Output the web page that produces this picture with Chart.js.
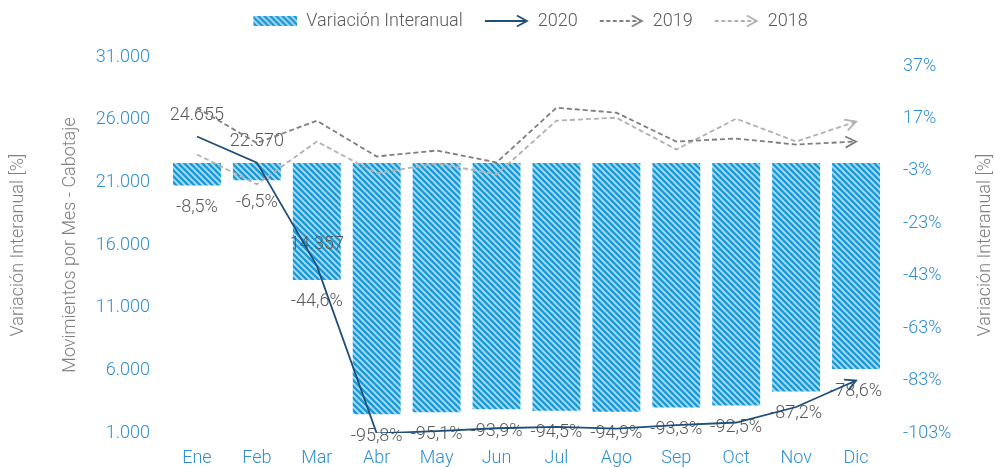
<!DOCTYPE html>
<html><head><meta charset="utf-8">
<script src="https://cdn.jsdelivr.net/npm/chart.js@4/dist/chart.umd.min.js"></script>
<style>html,body{margin:0;padding:0;background:#fff;}#wrap{width:995px;height:468px;position:relative;}</style>
</head><body><div id="wrap"><canvas id="c"></canvas></div>
<script>
const months = ['Ene','Feb','Mar','Abr','May','Jun','Jul','Ago','Sep','Oct','Nov','Dic'];
const variacion = [-8.5,-6.5,-44.6,-95.8,-95.1,-93.9,-94.5,-94.9,-93.3,-92.5,-87.2,-78.6];
const s2020 = [24655,22570,14357,969,1153,1378,1482,1354,1625,1837,3074,5190];
const s2019 = [26945,24139,25915,23063,23540,22587,26952,26556,24254,24492,24016,24254];
const s2018 = [23222,20841,24254,21714,22508,21635,25921,26159,23619,26079,24254,25841];
const labeled2020 = [0,1,2];
const leftTicks = [1000,6000,11000,16000,21000,26000,31000];
const rightTicks = [-103,-83,-63,-43,-23,-3,17,37];
const rightTitle = 'Variación Interanual [%]';

const FONT = 'Roboto';
const TICK_BLUE = '#2f8fd1';
const LABEL_GREY = '#595959';
const TITLE_GREY = '#808080';
const C2020 = '#1f4e79', C2019 = '#7f7f7f', C2018 = '#b0b0b0';

function fmtNum(v){ return String(v).replace(/\B(?=(\d{3})+(?!\d))/g,'.'); }
function fmtPct(v){ return String(v).replace('.',',') + '%'; }

function tile(){
  const c=document.createElement('canvas'); c.width=6; c.height=6;
  const g=c.getContext('2d');
  g.fillStyle='#1a9ad6'; g.fillRect(0,0,6,6);
  g.strokeStyle='rgba(255,255,255,0.65)'; g.lineWidth=1.9;
  g.beginPath(); g.moveTo(-1,-1); g.lineTo(7,7); g.moveTo(5,-1); g.lineTo(7,1); g.moveTo(-1,5); g.lineTo(1,7); g.stroke();
  return c;
}
const canvas = document.getElementById('c');
canvas.width=995; canvas.height=468;
const mainCtx = canvas.getContext('2d');
const pattern = mainCtx.createPattern(tile(),'repeat');

const W = 50;
function swatchImg(){
  const c=document.createElement('canvas'); c.width=W; c.height=14;
  const g=c.getContext('2d'); g.fillStyle=g.createPattern(tile(),'repeat'); g.fillRect(W-44,2,44,10); return c;
}
function arrowImg(color, dash){
  const c=document.createElement('canvas'); c.width=W; c.height=14;
  const g=c.getContext('2d'); g.strokeStyle=color; g.lineWidth=1.8;
  g.setLineDash(dash); g.beginPath(); g.moveTo(W-44,7); g.lineTo(W-2,7); g.stroke();
  g.setLineDash([]); g.beginPath(); g.moveTo(W-12,1.5); g.lineTo(W-2,7); g.lineTo(W-12,12.5); g.stroke();
  return c;
}
const legendImgs = [swatchImg(), arrowImg(C2020,[]), arrowImg(C2019,[4,2.5]), arrowImg(C2018,[4,2.5])];

const valuePlugin = {
  id:'vals',
  afterDatasetDraw(chart, args){
    if(args.index!==0) return;
    const ctx=chart.ctx; ctx.save();
    ctx.font='300 18px '+FONT; ctx.fillStyle=LABEL_GREY; ctx.textAlign='center'; ctx.textBaseline='middle';
    chart.getDatasetMeta(0).data.forEach((el,i)=>ctx.fillText(fmtPct(variacion[i]), el.x, el.y+22));
    const m=chart.getDatasetMeta(1);
    labeled2020.forEach(i=>{const el=m.data[i]; ctx.fillText(fmtNum(s2020[i]), el.x, el.y-21);});
    ctx.restore();
  }
};
const arrowPlugin = {
  id:'arrows',
  afterDatasetsDraw(chart){
    const ctx=chart.ctx;
    [1,2,3].forEach(di=>{
      const ds=chart.data.datasets[di]; const pts=chart.getDatasetMeta(di).data;
      const a=pts[pts.length-2], b=pts[pts.length-1];
      const ang=Math.atan2(b.y-a.y,b.x-a.x), L=12, sp=Math.PI/6.5;
      ctx.save(); ctx.strokeStyle=ds.borderColor; ctx.lineWidth=ds.borderWidth; ctx.setLineDash([]);
      ctx.beginPath();
      ctx.moveTo(b.x-L*Math.cos(ang-sp), b.y-L*Math.sin(ang-sp));
      ctx.lineTo(b.x,b.y);
      ctx.lineTo(b.x-L*Math.cos(ang+sp), b.y-L*Math.sin(ang+sp));
      ctx.stroke(); ctx.restore();
    });
  }
};
const rightTitlePlugin = {
  id:'rightTitle',
  afterDraw(chart){
    const s=chart.scales.y1, ctx=chart.ctx; ctx.save();
    ctx.translate(s.right-10, (chart.chartArea.top+chart.chartArea.bottom)/2);
    ctx.rotate(-Math.PI/2);
    ctx.font='300 18px '+FONT; ctx.fillStyle=TITLE_GREY; ctx.textAlign='center'; ctx.textBaseline='middle';
    ctx.fillText(rightTitle,0,0); ctx.restore();
  }
};
const legendShift = { id:'legendShift', afterLayout(chart){ const l=chart.legend; if(l){ l.left+=30; l.right+=30; l.top-=17; l.bottom-=17; } } };

new Chart(canvas, {
  data:{
    labels: months,
    datasets:[
      {type:'bar', label:'Variación Interanual', data:variacion, yAxisID:'y1', backgroundColor:pattern, borderWidth:0, barPercentage:0.8, categoryPercentage:1.0, order:10},
      {type:'line', label:'2020', data:s2020, yAxisID:'y', borderColor:C2020, borderWidth:1.8, pointRadius:0, tension:0, fill:false, order:1},
      {type:'line', label:'2019', data:s2019, yAxisID:'y', borderColor:C2019, borderWidth:1.8, borderDash:[5,3], pointRadius:0, tension:0, fill:false, order:2},
      {type:'line', label:'2018', data:s2018, yAxisID:'y', borderColor:C2018, borderWidth:1.8, borderDash:[5,3], pointRadius:0, tension:0, fill:false, order:3}
    ]
  },
  options:{
    responsive:false, animation:false, devicePixelRatio:1,
    layout:{padding:{top:13,left:0,right:0,bottom:0}},
    plugins:{
      tooltip:{enabled:false},
      legend:{
        display:true, position:'top', align:'center',
        labels:{
          usePointStyle:true, pointStyleWidth:W, padding:16, color:'#595959',
          font:{family:FONT,size:18,weight:'300'},
          generateLabels(chart){
            return chart.data.datasets.map((ds,i)=>({text:ds.label, pointStyle:legendImgs[i], datasetIndex:i, hidden:false, fontColor:'#595959', lineWidth:0, strokeStyle:'transparent', fillStyle:'transparent'}));
          }
        }
      }
    },
    scales:{
      x:{
        grid:{display:false}, border:{display:false},
        ticks:{color:TICK_BLUE, font:{family:FONT,size:18,weight:'300'}, padding:7, maxRotation:0},
        afterFit(s){ s.height=35; }
      },
      y:{
        position:'left', min:1000, max:31000,
        grid:{display:false, drawTicks:false}, border:{display:false},
        ticks:{color:TICK_BLUE, font:{family:FONT,size:18,weight:'300'}, padding:17, callback:v=>fmtNum(v)},
        afterBuildTicks(s){ s.ticks=leftTicks.map(v=>({value:v})); },
        title:{display:true, text:['Variación Interanual [%]','Movimientos por Mes - Cabotaje'], color:TITLE_GREY, font:{family:FONT,size:18,weight:'300',lineHeight:2.9}, padding:{top:-8,bottom:0}},
        afterFit(s){ s.width=167; }
      },
      y1:{
        position:'right', min:-103, max:40.5,
        grid:{display:false, drawTicks:false}, border:{display:false},
        ticks:{color:TICK_BLUE, font:{family:FONT,size:18,weight:'300'}, padding:17, callback:v=>v+'%'},
        afterBuildTicks(s){ s.ticks=rightTicks.map(v=>({value:v})); },
        title:{display:false},
        afterFit(s){ s.width=109; }
      }
    }
  },
  plugins:[valuePlugin, arrowPlugin, rightTitlePlugin, legendShift]
});
</script></body></html>
